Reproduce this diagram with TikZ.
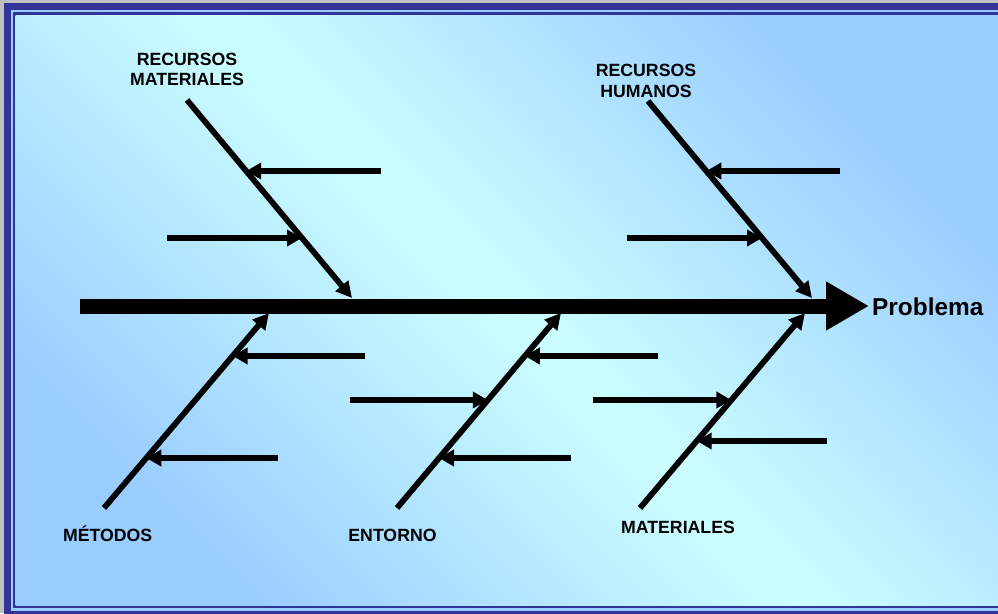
\documentclass[tikz,border=0pt]{standalone}
\usepackage{fontspec}
\setmainfont{Liberation Sans}
\usetikzlibrary{arrows.meta}
\definecolor{framebl}{RGB}{51,51,153}
\definecolor{skyc}{RGB}{204,255,255}
\definecolor{skyb}{RGB}{153,204,255}
\definecolor{paper}{RGB}{192,192,192}
\begin{document}
\begin{tikzpicture}[x=1pt,y=-1pt,
  spine/.style={line width=15pt, -{Triangle[length=43pt,width=46pt]}},
  bone/.style={line width=5.8pt, -{Triangle[length=16pt,width=16pt]}},
  twig/.style={line width=5.8pt, -{Triangle[length=15pt,width=16pt]}},
  cause/.style={font=\fontsize{17.7}{20.5}\selectfont\bfseries, align=center, inner sep=0pt},
]
\useasboundingbox (0,0) rectangle (998,613);
\clip (0,0) rectangle (998,613);

% frame and shaded panel
\fill[paper] (0,0) rectangle (998,613);
\fill[framebl] (4,3) rectangle (1010,625);
\fill[skyb] (11,10) rectangle (1003,610.5);
\fill[framebl] (13,12) rectangle (1001,607.7);
\shade[top color=skyb, bottom color=skyb, middle color=skyc, shading angle=-45]
  (15.5,15) rectangle (999,605);

% labels
\node[cause, anchor=north] (lrm) at (187,52.5) {RECURSOS\\MATERIALES};
\node[cause, anchor=north] (lrh) at (646,64) {RECURSOS\\HUMANOS};
\node[cause, anchor=base] (lme) at (107.7,541) {MÉTODOS};
\node[cause, anchor=base] (len) at (392.5,541) {ENTORNO};
\node[cause, anchor=base] (lma) at (678,533) {MATERIALES};
\node[font=\fontsize{24.4}{29}\selectfont\bfseries, anchor=base west, inner sep=0pt]
  (prob) at (872,315) {Problema};

% spine
\coordinate (sp0) at (80,306);
\coordinate (sp1) at (869,306);
\draw[spine] (sp0) -- (sp1);

% main bones
\coordinate (rmA) at (187,100);  \coordinate (rmB) at (352,298);
\coordinate (rhA) at (648,101);  \coordinate (rhB) at (812,298);
\coordinate (meA) at (104,508);  \coordinate (meB) at (269,313);
\coordinate (enA) at (397,508);  \coordinate (enB) at (561,313);
\coordinate (maA) at (640,508);  \coordinate (maB) at (805,313);
\draw[bone] (rmA) -- (rmB);
\draw[bone] (rhA) -- (rhB);
\draw[bone] (meA) -- (meB);
\draw[bone] (enA) -- (enB);
\draw[bone] (maA) -- (maB);

% sub-causes
\coordinate (rm1s) at (381,171); \coordinate (rm1) at (246.2,171);
\coordinate (rm2s) at (167,238); \coordinate (rm2) at (302,238);
\coordinate (rh1s) at (840,171); \coordinate (rh1) at (706.3,171);
\coordinate (rh2s) at (627,238); \coordinate (rh2) at (762,238);
\coordinate (me1s) at (365,356); \coordinate (me1) at (232.6,356);
\coordinate (me2s) at (278,458); \coordinate (me2) at (146.3,458);
\coordinate (en1s) at (658,356); \coordinate (en1) at (524.8,356);
\coordinate (en2s) at (350,400); \coordinate (en2) at (487.8,400);
\coordinate (en3s) at (571,458); \coordinate (en3) at (439,458);
\coordinate (ma1s) at (593,400); \coordinate (ma1) at (731.4,400);
\coordinate (ma2s) at (827,441); \coordinate (ma2) at (696.7,441);
\foreach \t in {rm1,rm2,rh1,rh2,me1,me2,en1,en2,en3,ma1,ma2}
  \draw[twig] (\t s) -- (\t);
\end{tikzpicture}
\end{document}
